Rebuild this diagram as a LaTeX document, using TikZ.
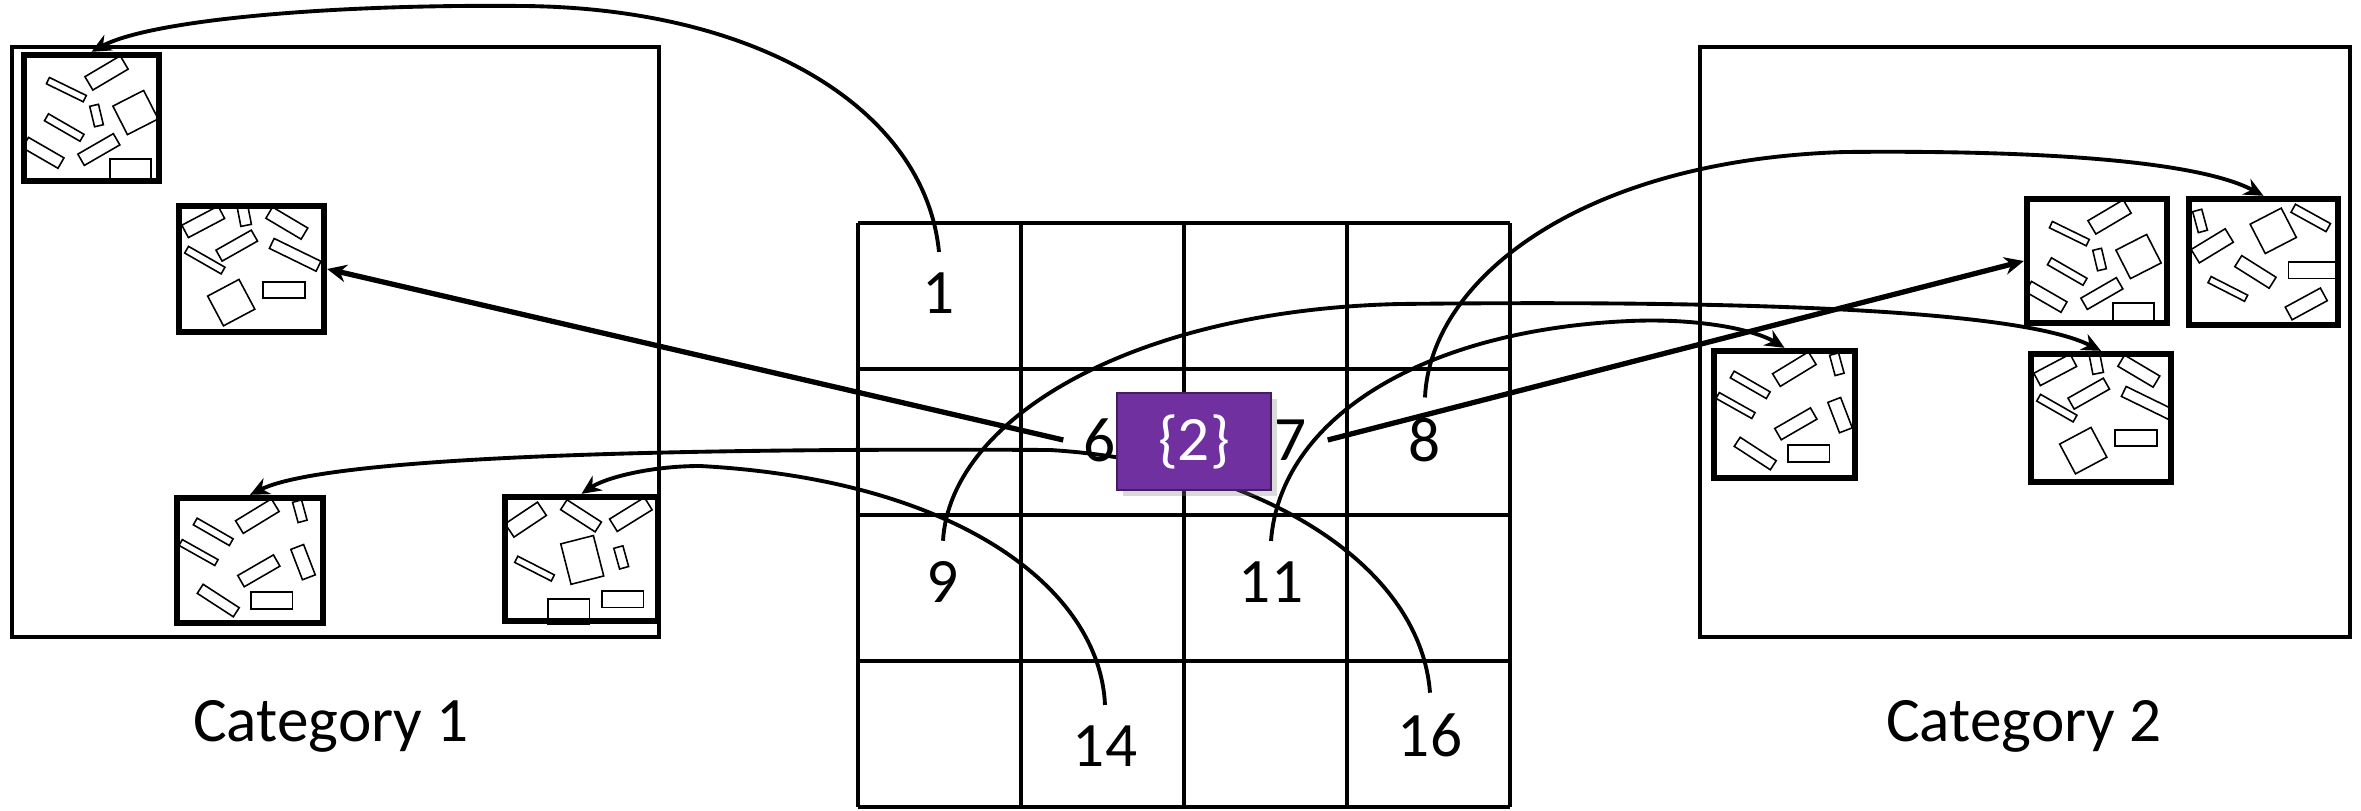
\documentclass[tikz,border=0pt]{standalone}
\usepackage{fontspec}
\setmainfont{Carlito}
\usepackage{tikz}
\usetikzlibrary{arrows.meta, positioning, shadows}
\definecolor{setpurple}{RGB}{112,48,160}

% one small rotated block inside a tile: centre x, centre y, length, width, angle
\newcommand{\blk}[5]{\draw[blk, shift={(#1,#2)}, rotate=#5] ({-#3/2},{-#4/2}) rectangle ({#3/2},{#4/2});}

% contents of the tiles (local coordinates from the tile's top left corner)
\newcommand{\sceneA}{%
  \blk{45.5}{37.8}{41}{7}{-26}
  \blk{85.7}{21.1}{41}{15.5}{30.6}
  \blk{75.7}{63.7}{21}{9}{-76.6}
  \blk{114.7}{60.7}{34.5}{32}{27}
  \blk{43.4}{75.7}{41}{8}{-30}
  \blk{22.4}{101}{41}{12}{-30}
  \blk{78}{97.7}{41}{13}{30}
  \draw[blk] (89.4,107.4) rectangle (130.4,128);}
\newcommand{\sceneB}{%
  \blk{27.4}{19}{41}{14}{27.8}
  \blk{68.4}{12.7}{20}{10.7}{-79}
  \blk{111}{20.3}{41}{13}{-30.7}
  \blk{60.9}{42.8}{40.6}{12.6}{29.5}
  \blk{29}{57.3}{42}{7.7}{-29.8}
  \blk{119.3}{52}{52}{11}{-26}
  \blk{55.4}{99.8}{35.5}{33.7}{28}
  \draw[blk] (87.4,79.3) rectangle (129.4,95.3);}
\newcommand{\sceneC}{%
  \blk{39.4}{37}{41.5}{7.7}{-29.9}
  \blk{83.5}{21.3}{42}{14.8}{31.4}
  \blk{126}{16.4}{21}{9.3}{-74.7}
  \blk{24.7}{57.7}{41}{6.7}{-29.3}
  \blk{129.2}{67.3}{32.5}{13.7}{-69}
  \blk{85}{76}{41.2}{13}{30}
  \blk{44.4}{105.7}{43}{10.8}{-33}
  \draw[blk] (77,97.4) rectangle (118.7,114);}
\newcommand{\sceneD}{%
  \blk{23.9}{25.8}{39}{16}{33.8}
  \blk{79.2}{22}{41}{11.7}{-32.8}
  \blk{129}{20.6}{41}{14.6}{31.8}
  \blk{80.4}{66.1}{33.7}{41.7}{14.3}
  \blk{119.4}{63.6}{21.5}{9.4}{-74.5}
  \blk{32.7}{74.8}{41}{6.9}{-27}
  \draw[blk] (46,105) rectangle (87.7,130);
  \draw[blk] (100,97) rectangle (141.7,113.6);}
\newcommand{\sceneE}{%
  \blk{14.2}{25.1}{21.7}{9.4}{-74.9}
  \blk{26.4}{50}{39.8}{15.7}{31.3}
  \blk{87.4}{35}{35}{33}{27.3}
  \blk{124.9}{22.1}{40}{9.2}{-28.9}
  \blk{69.6}{76.1}{40.6}{13}{-32.2}
  \blk{42}{93.1}{41}{6.9}{-27}
  \draw[blk] (102.7,66) rectangle (150,82.6);
  \blk{120.4}{108.1}{40}{14.4}{28.5}}

\begin{document}
\begin{tikzpicture}[x=0.1mm, y=-0.1mm,
    catbox/.style={rectangle, draw, line width=1.4pt, inner sep=0pt},
    tile/.style={rectangle, draw, line width=1.8pt, inner sep=0pt},
    blk/.style={line width=0.45pt},
    gridline/.style={line width=1.4pt},
    num/.style={font=\fontsize{18}{22}\selectfont, inner sep=2mm},
    catlabel/.style={font=\fontsize{18}{22}\selectfont},
    setbox/.style={rectangle, fill=setpurple, draw=setpurple!60!black, line width=0.6pt,
                   text=white, font=\fontsize{18}{22}\selectfont,
                   minimum width=15.4mm, minimum height=9.7mm,
                   drop shadow={shadow xshift=0.6mm, shadow yshift=-0.6mm, opacity=0.3}},
    conn/.style={line width=1.1pt, -{Stealth[length=5.5pt,width=5pt]}},
    ray/.style={conn, line width=1.5pt}]

\useasboundingbox (0,0) rectangle (2361,811);

% categories
\node (cat1) [catbox, minimum width=64.7mm, minimum height=59mm] at (335.5,342) {};
\node (cat2) [catbox, minimum width=65mm, minimum height=59mm] at (2025,342) {};
\node (lab1) [catlabel] at (331,726) {Category 1};
\node (lab2) [catlabel] at (2024,726) {Category 2};

% tiles
\node (tA) [tile, minimum width=13.5mm, minimum height=12.6mm] at (91.5,118)  {};
\node (tB) [tile, minimum width=14.5mm, minimum height=12.6mm] at (251.5,269) {};
\node (tC) [tile, minimum width=14.6mm, minimum height=12.5mm] at (250,560.5) {};
\node (tD) [tile, minimum width=15.3mm, minimum height=12.4mm] at (581.5,559) {};
\node (tE) [tile, minimum width=14.1mm, minimum height=12.7mm] at (1784.5,414.5) {};
\node (tF) [tile, minimum width=14.0mm, minimum height=12.4mm] at (2097,261) {};
\node (tG) [tile, minimum width=14.9mm, minimum height=12.6mm] at (2263.5,262) {};
\node (tH) [tile, minimum width=14.0mm, minimum height=12.8mm] at (2101,418) {};

\foreach \t/\s in {tA/\sceneA, tB/\sceneB, tC/\sceneC, tD/\sceneD,
                   tE/\sceneC, tF/\sceneA, tG/\sceneE, tH/\sceneB} {
  \begin{scope}
    \clip (\t.north west) rectangle (\t.south east);
    \begin{scope}[shift={(\t.north west)}]
      \s
    \end{scope}
  \end{scope}
}

% the 4x4 grid
\foreach \k in {0,...,4} {
  \draw[gridline] ({858+163*\k},223) -- ({858+163*\k},807);
  \draw[gridline] (858,{223+146*\k}) -- (1510,{223+146*\k});
}

\node (n1)  [num] at (939,293)  {1};
\node (n6)  [num] at (1100,440) {6};
\node (n7)  [num] at (1291,440) {7};
\node (n8)  [num] at (1425,440) {8};
\node (n9)  [num] at (943,582)  {9};
\node (n11) [num] at (1271,582) {11};
\node (n14) [num] at (1105,746) {14};
\node (n16) [num] at (1430,735) {16};

% connectors
\draw[conn] (n1.north) .. controls (925,110) and (760,8) .. (523,6)
    .. controls (330,4) and (150,20) .. (tA.north);
\draw[ray] (n6.west) -- (tB.east);
\draw[ray] (n7.east) -- (tF.west);
\draw[conn] (n8.north) .. controls (1430,280) and (1580,160) .. (1845,152)
    .. controls (2050,150) and (2200,162) .. (tG.north);
\draw[conn] (n9.north) .. controls (950,420) and (1130,310) .. (1400,304)
    .. controls (1750,300) and (2020,310) .. (tH.north);
\draw[conn] (n11.north) .. controls (1280,420) and (1420,330) .. (1630,321)
    .. controls (1700,318) and (1755,330) .. (tE.north);
\draw[conn] (n14.north) .. controls (1100,590) and (960,480) .. (700,466)
    .. controls (650,466) and (605,478) .. (tD.north);
\draw[conn] (n16.north) .. controls (1420,560) and (1250,462) .. (1050,450)
    .. controls (700,448) and (330,455) .. (tC.north);

\node (s2) [setbox] at (1194,441.5) {\{2\}};
\end{tikzpicture}
\end{document}
